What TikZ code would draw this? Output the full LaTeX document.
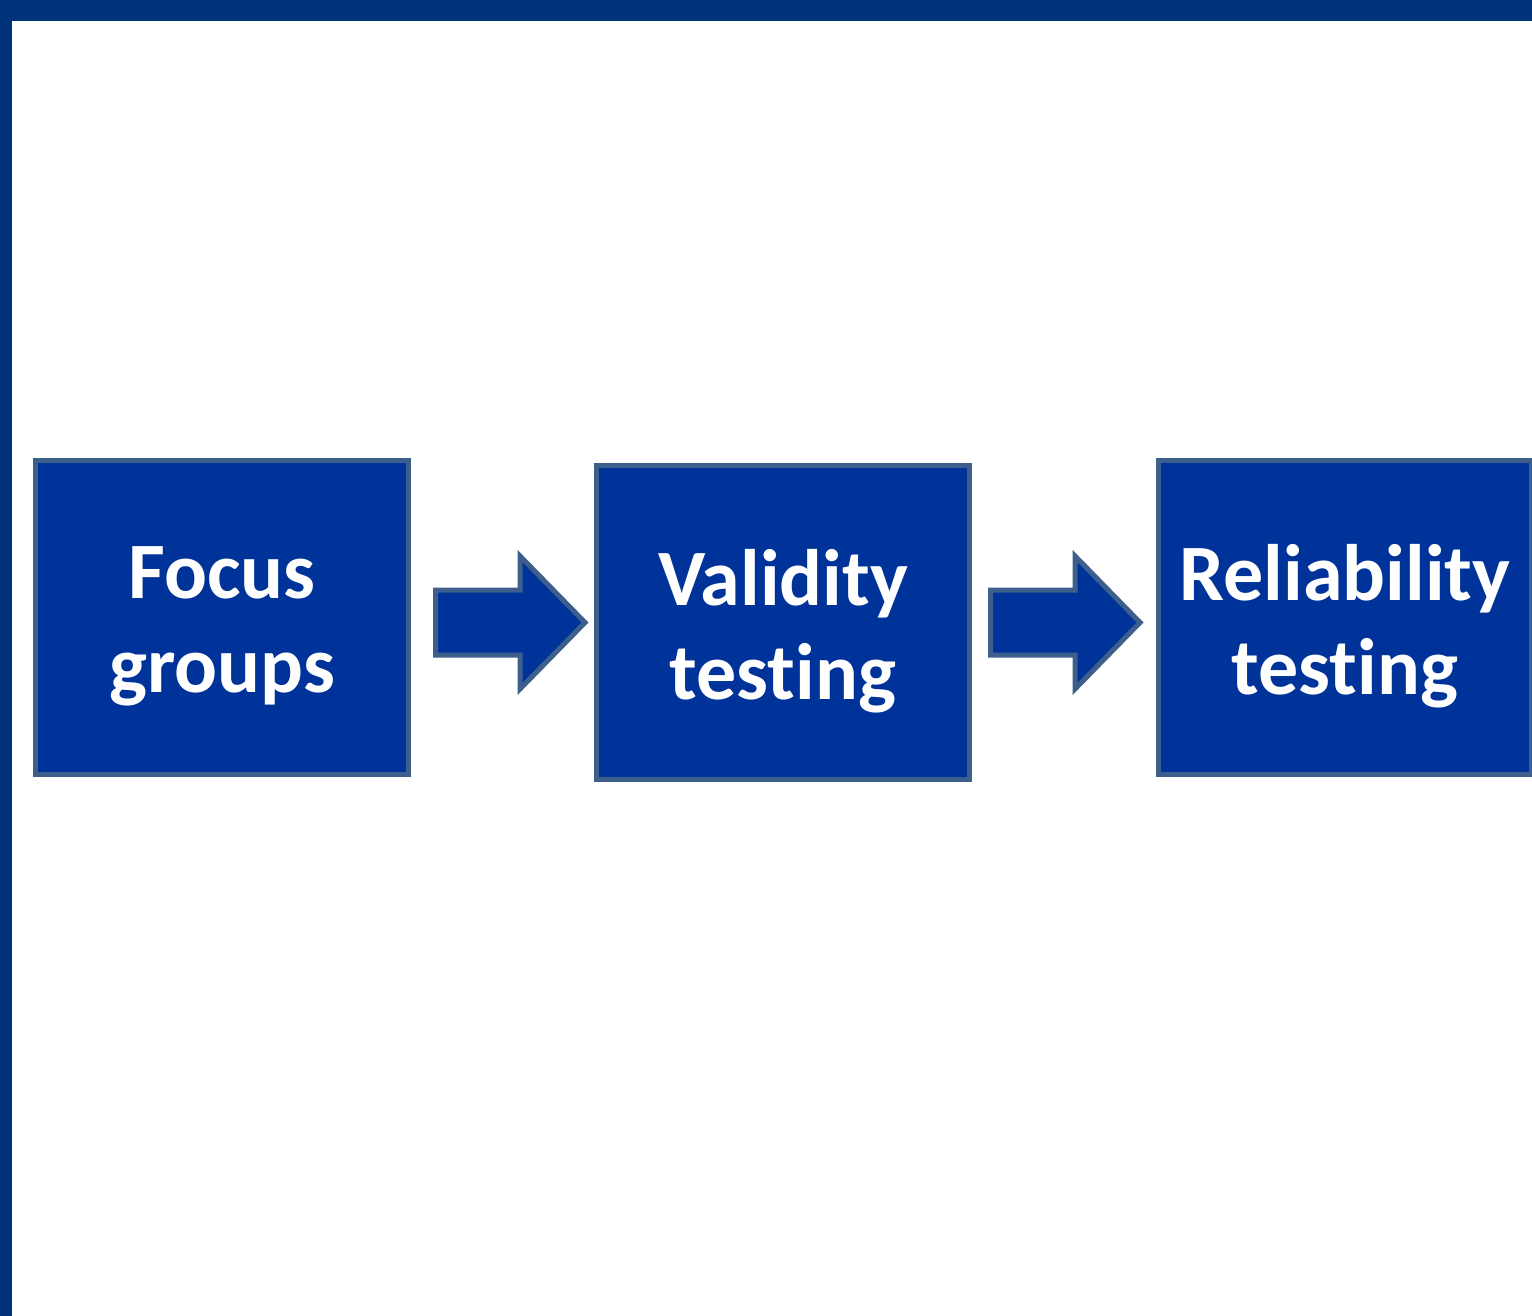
\documentclass[tikz,border=0pt]{standalone}
\usepackage{fontspec}
\setmainfont{Carlito}[Ligatures=NoCommon]
\definecolor{framecol}{RGB}{0,51,122}
\definecolor{boxfill}{RGB}{0,51,153}
\definecolor{boxline}{RGB}{61,95,140}

\tikzset{
    stepbox/.style={draw=boxline, fill=boxfill, line width=5pt, inner sep=0pt,
        minimum width=373pt, minimum height=314pt},
    steptext/.style={align=center, text=white, inner sep=0pt,
        font=\fontsize{80}{94}\selectfont\bfseries},
    arrowshape/.style={draw=boxline, fill=boxfill, line width=5pt, line join=miter}
}
\newcommand{\blockarrow}[1]{%
    \draw [arrowshape, xshift=#1pt] (435.5,590) -- (520,590) -- (520,556) -- (585,622.5)
        -- (520,689) -- (520,655) -- (435.5,655) -- cycle;}

\begin{document}
\begin{tikzpicture}[x=1pt, y=-1pt]
    \useasboundingbox (0,0) rectangle (1532,1316);
    \clip (0,0) rectangle (1532,1316);
    % frame
    \fill [framecol] (0,0) rectangle (1532,21);
    \fill [framecol] (0,0) rectangle (12,1316);
    % boxes
    \node [stepbox] (focus) at (222,617) {};
    \node [stepbox] (valid) at (783,622.5) {};
    \node [stepbox] (reliab) at (1345,617) {};
    \node [steptext] (focus-t) at ([yshift=-9pt]focus.center) {Focus\\groups};
    \node [steptext] (valid-t) at ([yshift=-9pt]valid.center) {Validity\\testing};
    \node [steptext] (reliab-t) at ([yshift=-9pt]reliab.center) {Reliability\\testing};
    % arrows
    \blockarrow{0}
    \blockarrow{555}
\end{tikzpicture}
\end{document}
